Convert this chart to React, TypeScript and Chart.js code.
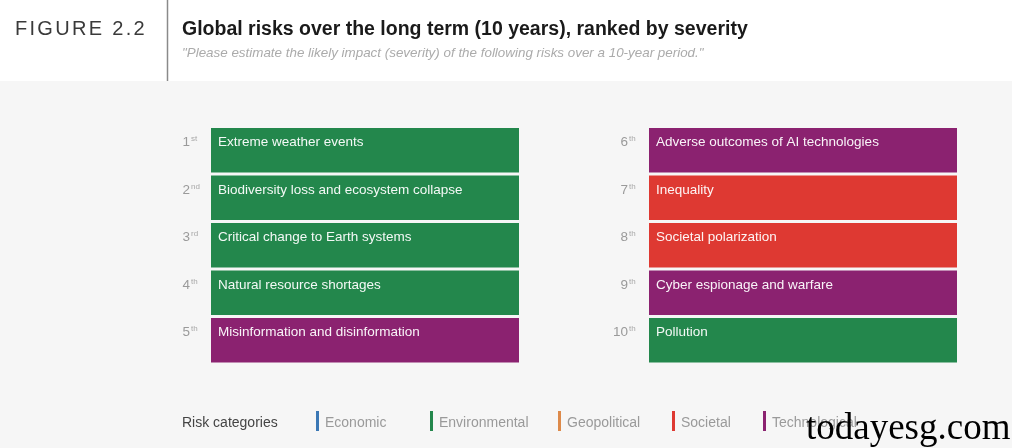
import React, { useEffect, useRef } from 'react';
import { Chart, registerables } from 'chart.js';

Chart.register(...registerables);

// ---- Data ----
const rankNumbers = [1, 2, 3, 4, 5, 6, 7, 8, 9, 10];
const rankSuffixes = ['st', 'nd', 'rd', 'th', 'th', 'th', 'th', 'th', 'th', 'th'];
const riskNames = [
  'Extreme weather events',
  'Biodiversity loss and ecosystem collapse',
  'Critical change to Earth systems',
  'Natural resource shortages',
  'Misinformation and disinformation',
  'Adverse outcomes of AI technologies',
  'Inequality',
  'Societal polarization',
  'Cyber espionage and warfare',
  'Pollution',
];
const riskCategories = [
  'Environmental',
  'Environmental',
  'Environmental',
  'Environmental',
  'Technological',
  'Technological',
  'Societal',
  'Societal',
  'Technological',
  'Environmental',
];
const categoryNames = ['Economic', 'Environmental', 'Geopolitical', 'Societal', 'Technological'];
const categoryColors = ['#3b78b5', '#23874c', '#dd8a4a', '#de3932', '#8b2270'];
const rowLabels = ['row1', 'row2', 'row3', 'row4', 'row5'];

const figureLabel = 'FIGURE 2.2';
const titleText = 'Global risks over the long term (10 years), ranked by severity';
const subtitleText = '"Please estimate the likely impact (severity) of the following risks over a 10-year period."';
const legendTitle = 'Risk categories';
const watermark = 'todayesg.com';

// ---- Layout constants (not data) ----
const W = 1012;
const H = 448;
const COLUMN_GAP = 130 / 308; // gap between the two columns, in column widths
const ROWS_PER_COLUMN = 5;
const LEGEND_X = [316, 430, 558, 672, 763];
const FONT = '"Liberation Sans", Arial, Helvetica, sans-serif';

function colorFor(cat: string) {
  const i = categoryNames.indexOf(cat);
  return categoryColors[i >= 0 ? i : 0];
}

const barData = riskNames.map((_, i) => {
  const col = Math.floor(i / ROWS_PER_COLUMN);
  const row = i % ROWS_PER_COLUMN;
  const start = col * (1 + COLUMN_GAP);
  return { x: [start, start + 1], y: rowLabels[row] };
});

const decorPlugin = {
  id: 'decor',
  beforeDraw(chart: any) {
    const ctx = chart.ctx as CanvasRenderingContext2D;
    ctx.save();
    ctx.fillStyle = '#ffffff';
    ctx.fillRect(0, 0, W, 81);
    ctx.fillStyle = '#f6f6f6';
    ctx.fillRect(0, 81, W, H - 81);
    // divider
    ctx.strokeStyle = '#8a8a8a';
    ctx.lineWidth = 1.5;
    ctx.beginPath();
    ctx.moveTo(167.5, 0);
    ctx.lineTo(167.5, 81);
    ctx.stroke();
    // figure label
    ctx.fillStyle = '#3a3a3a';
    ctx.textBaseline = 'alphabetic';
    ctx.textAlign = 'left';
    ctx.font = `20px ${FONT}`;
    (ctx as any).letterSpacing = '2.3px';
    ctx.fillText(figureLabel, 15, 35);
    (ctx as any).letterSpacing = '0px';
    // title
    ctx.fillStyle = '#1a1a1a';
    ctx.font = `bold 19.5px ${FONT}`;
    ctx.fillText(titleText, 182, 35);
    // subtitle
    ctx.fillStyle = '#ababab';
    ctx.font = `italic 13.4px ${FONT}`;
    ctx.fillText(subtitleText, 182, 57);
    ctx.restore();
  },
  afterDatasetsDraw(chart: any) {
    const ctx = chart.ctx as CanvasRenderingContext2D;
    const meta = chart.getDatasetMeta(0);
    ctx.save();
    ctx.textAlign = 'left';
    ctx.textBaseline = 'alphabetic';
    meta.data.forEach((bar: any, i: number) => {
      const left = Math.min(bar.x, bar.base);
      const top = bar.y - bar.height / 2;
      const baseline = top + 18.5;
      // risk name
      ctx.fillStyle = 'rgba(255,255,255,0.95)';
      ctx.font = `13.5px ${FONT}`;
      ctx.fillText(riskNames[i], left + 7, baseline);
      // rank number
      ctx.font = `13.5px ${FONT}`;
      ctx.fillStyle = '#9a9a9a';
      const num = String(rankNumbers[i]);
      const numRight = left - 21;
      ctx.textAlign = 'right';
      ctx.fillText(num, numRight, baseline);
      ctx.textAlign = 'left';
      ctx.font = `8px ${FONT}`;
      ctx.fillStyle = '#a8a8a8';
      ctx.fillText(rankSuffixes[i], numRight + 1, baseline - 5);
    });
    // legend
    ctx.font = `14px ${FONT}`;
    ctx.fillStyle = '#444444';
    ctx.fillText(legendTitle, 182, 426.5);
    categoryNames.forEach((name, i) => {
      const x = LEGEND_X[i];
      ctx.fillStyle = categoryColors[i];
      ctx.fillRect(x, 411, 3, 20);
      ctx.fillStyle = '#9a9a9a';
      ctx.font = `14px ${FONT}`;
      ctx.fillText(name, x + 9, 426.5);
    });
    // watermark
    ctx.fillStyle = '#000000';
    ctx.font = `37px "Liberation Serif", "Times New Roman", serif`;
    ctx.fillText(watermark, 806, 439);
    ctx.restore();
  },
};

export default function App() {
  const canvasRef = useRef<HTMLCanvasElement | null>(null);

  useEffect(() => {
    document.body.style.margin = '0';
    const canvas = canvasRef.current;
    if (!canvas) return;
    const chart = new Chart(canvas, {
      type: 'bar',
      data: {
        labels: rowLabels,
        datasets: [
          {
            data: barData as any,
            backgroundColor: (c: any) => colorFor(riskCategories[c.dataIndex]),
            borderWidth: 0,
            barPercentage: 0.937,
            categoryPercentage: 1,
          },
        ],
      },
      options: {
        indexAxis: 'y',
        responsive: false,
        animation: false,
        events: [],
        layout: { padding: { left: 211, right: 55, top: 126.5, bottom: 84 } },
        plugins: {
          legend: { display: false },
          tooltip: { enabled: false },
          title: { display: false },
        },
        scales: {
          x: { type: 'linear', min: 0, max: 2 + COLUMN_GAP, display: false },
          y: { type: 'category', labels: rowLabels, offset: true, display: false },
        },
      },
      plugins: [decorPlugin],
    });
    return () => chart.destroy();
  }, []);

  return <canvas ref={canvasRef} width={W} height={H} style={{ display: 'block', width: W, height: H }} />;
}
